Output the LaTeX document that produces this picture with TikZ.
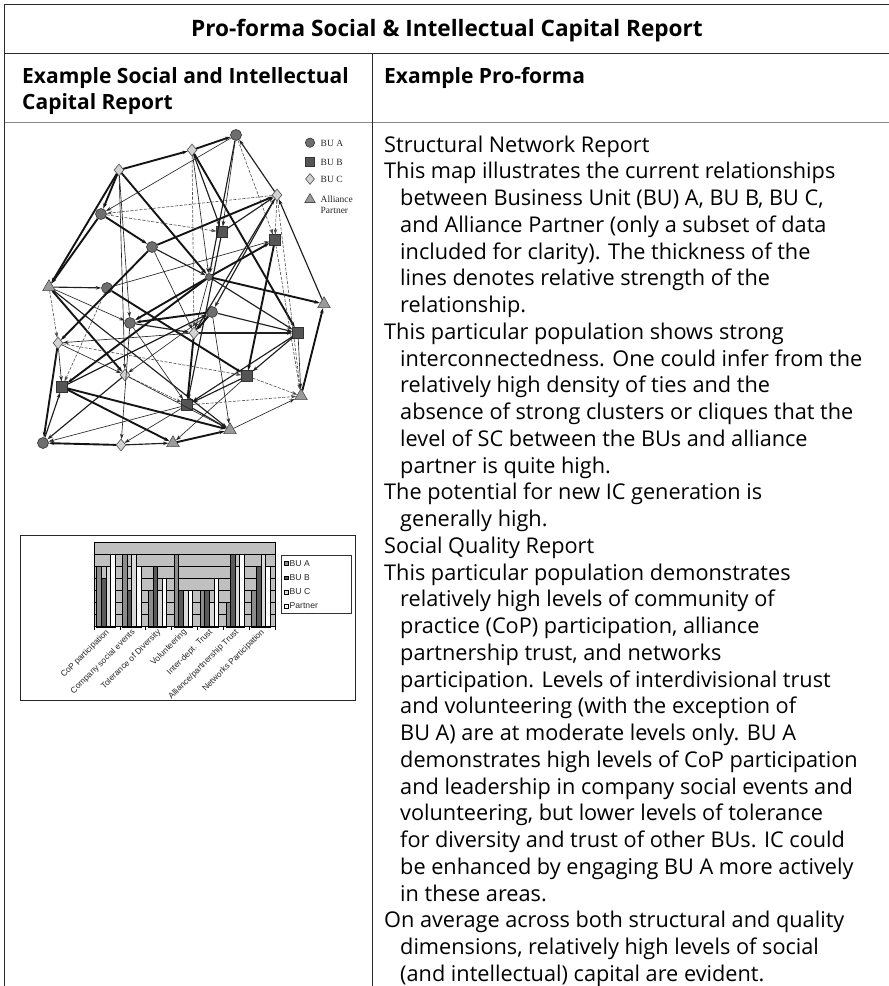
\documentclass[tikz,border=0pt]{standalone}
\usepackage{fontspec}
\setmainfont{Open Sans}
\newfontfamily\chartfont{Liberation Sans}
\newfontfamily\keyfont{Liberation Serif}
\usetikzlibrary{shapes.geometric,arrows.meta}

\definecolor{ruleclr}{HTML}{2A2A2A}
\definecolor{headrule}{HTML}{8A8A8A}
\definecolor{nodeA}{HTML}{6E6E6E}
\definecolor{nodeB}{HTML}{555555}
\definecolor{nodeC}{HTML}{D2D2D2}
\definecolor{nodeT}{HTML}{9A9A9A}
\definecolor{barA}{HTML}{8C8C8C}
\definecolor{barB}{HTML}{5A5A5A}
\definecolor{barC}{HTML}{DADADA}
\definecolor{plotbg}{HTML}{C0C0C0}

\begin{document}
\begin{tikzpicture}[x=1pt,y=-1pt,
  rule/.style={draw=ruleclr,line width=1.3pt},
  titletext/.style={font=\fontsize{22.6}{27}\selectfont\bfseries,inner sep=0},
  headtext/.style={font=\fontsize{21}{26}\selectfont\bfseries,inner sep=0,anchor=base west},
  bodytext/.style={font=\fontsize{21.7}{26.75}\selectfont,inner sep=0,anchor=north west,align=left},
  % network node kinds
  bua/.style={circle,draw=black!80,fill=nodeA,minimum size=11pt,inner sep=0,line width=0.6pt},
  bub/.style={rectangle,draw=black!80,fill=nodeB,minimum size=10.5pt,inner sep=0,line width=0.6pt},
  buc/.style={diamond,draw=black!70,fill=nodeC,minimum width=10pt,minimum height=12pt,inner sep=0,line width=0.6pt},
  ally/.style={regular polygon,regular polygon sides=3,draw=black!70,fill=nodeT,minimum size=14.5pt,inner sep=0,line width=0.6pt},
  keytext/.style={font=\keyfont\fontsize{9.5}{10.5}\selectfont,inner sep=0,anchor=west,align=left,text=black!85},
  % network ties
  tie/.style={-{Stealth[length=5.5pt,width=3.6pt]}},
  ek/.style={tie,line width=1.9pt,draw=black!92},
  em/.style={tie,line width=1.15pt,draw=black!88},
  et/.style={tie,line width=0.65pt,draw=black!85},
  ed/.style={tie,line width=0.6pt,draw=black!70,dash pattern=on 3pt off 1.5pt},
  % bar chart
  bar/.style={draw=black,line width=0.4pt},
  cattext/.style={font=\chartfont\fontsize{8.4}{9}\selectfont,inner sep=0,anchor=east,rotate=45,text=black!85},
  chartkey/.style={font=\chartfont\fontsize{8.6}{9}\selectfont,inner sep=0,anchor=west,text=black!85}
]
\useasboundingbox (0,0) rectangle (889,986);

% ---------- table frame ----------
\draw[rule] (4.5,986) -- (4.5,4.5) -- (889,4.5);
\draw[rule] (4.5,53.3) -- (889,53.3);
\draw[draw=headrule,line width=1.6pt] (4.5,122.5) -- (889,122.5);
\draw[rule] (372.5,53.3) -- (372.5,986);

% ---------- headings ----------
\node[titletext,anchor=base] (title) at (447,36.5) {Pro-forma Social \& Intellectual Capital Report};
\node[headtext] (headL1) at (22,83) {Example Social and Intellectual};
\node[headtext] (headL2) at (22,109) {Capital Report};
\node[headtext] (headR) at (384,83) {Example Pro-forma};

% ---------- report text ----------
\node[bodytext] (report) at (384,135.5) {%
Structural Network Report\\
This map illustrates the current relationships\\
\hspace*{16pt}between Business Unit (BU) A, BU B, BU C,\\
\hspace*{16pt}and Alliance Partner (only a subset of data\\
\hspace*{16pt}included for clarity). The thickness of the\\
\hspace*{16pt}lines denotes relative strength of the\\
\hspace*{16pt}relationship.\\
This particular population shows strong\\
\hspace*{16pt}interconnectedness. One could infer from the\\
\hspace*{16pt}relatively high density of ties and the\\
\hspace*{16pt}absence of strong clusters or cliques that the\\
\hspace*{16pt}level of SC between the BUs and alliance\\
\hspace*{16pt}partner is quite high.\\
The potential for new IC generation is\\
\hspace*{16pt}generally high.\\
Social Quality Report\\
This particular population demonstrates\\
\hspace*{16pt}relatively high levels of community of\\
\hspace*{16pt}practice (CoP) participation, alliance\\
\hspace*{16pt}partnership trust, and networks\\
\hspace*{16pt}participation. Levels of interdivisional trust\\
\hspace*{16pt}and volunteering (with the exception of\\
\hspace*{16pt}BU A) are at moderate levels only. BU A\\
\hspace*{16pt}demonstrates high levels of CoP participation\\
\hspace*{16pt}and leadership in company social events and\\
\hspace*{16pt}volunteering, but lower levels of tolerance\\
\hspace*{16pt}for diversity and trust of other BUs. IC could\\
\hspace*{16pt}be enhanced by engaging BU A more actively\\
\hspace*{16pt}in these areas.\\
On average across both structural and quality\\
\hspace*{16pt}dimensions, relatively high levels of social\\
\hspace*{16pt}(and intellectual) capital are evident.};

% ---------- structural network ----------
\node[bua] (J)  at (236,135) {};
\node[buc] (H)  at (192,150) {};
\node[buc] (I)  at (119,170) {};
\node[buc] (K)  at (277,195) {};
\node[bua] (A1) at (101,214) {};
\node[bub] (B1) at (222,232) {};
\node[bub] (B2) at (275,240) {};
\node[bua] (A2) at (152,247) {};
\node[bua,minimum size=7pt] (D) at (209,277) {};
\node[ally] (T1) at (49,287) {};
\node[bua] (A3) at (107,288) {};
\node[ally] (T2) at (324,304) {};
\node[bua] (A4) at (212,312) {};
\node[bua] (A5) at (130,323) {};
\node[buc] (C1) at (194,333) {};
\node[bub] (B3) at (298,333) {};
\node[buc] (C2) at (58,343) {};
\node[buc] (C3) at (125,375) {};
\node[bub] (B4) at (247,376) {};
\node[bub] (B5) at (62,387) {};
\node[ally] (T3) at (301,396) {};
\node[bub] (B6) at (187,405) {};
\node[ally] (T4) at (230,430) {};
\node[bua] (A6) at (43,443) {};
\node[buc] (C4) at (121,445) {};
\node[ally] (T5) at (173,443) {};

% outer ring
\draw[ek] (C4) -- (A6);
\draw[em] (C4) -- (T5);
\draw[ek] (T5) -- (T4);
\draw[et] (T4) -- (T3);
\draw[ek] (T3) -- (T2);
\draw[em] (T2) -- (K);
\draw[em] (K) -- (J);
\draw[ek] (H) -- (J);
\draw[ek] (I) -- (H);
\draw[ek] (I) -- (A1);
\draw[ek] (A1) -- (T1);
\draw[ek] (I) -- (T1);
\draw[ed] (T1) -- (C2);
\draw[ek] (C2) -- (A6);
\draw[em] (A6) -- (B5);
% upper ties
\draw[em] (H) -- (B1);
\draw[ek] (H) -- (B3);
\draw[ed] (H) -- (C1);
\draw[et] (H) -- (D);
\draw[em] (J) -- (D);
\draw[et] (J) -- (B1);
\draw[ed] (J) -- (B2);
\draw[et] (J) -- (A1);
\draw[em] (B1) -- (K);
\draw[ed] (K) -- (B2);
\draw[em] (K) -- (A4);
\draw[em] (C1) -- (K);
\draw[ed] (K) -- (A1);
\draw[ek] (A2) -- (K);
\draw[ed] (K) -- (T3);
\draw[et] (I) -- (A5);
\draw[et] (I) -- (C3);
\draw[ek] (I) -- (D);
\draw[ek] (A1) -- (A2);
\draw[ed] (A1) -- (B1);
\draw[ek] (A2) -- (C2);
\draw[et] (A2) -- (C1);
\draw[em] (A2) -- (D);
% middle ties
\draw[ek] (D) -- (T2);
\draw[em] (D) -- (B3);
\draw[ek] (D) -- (A5);
\draw[et] (D) -- (C1);
\draw[ek] (D) -- (B5);
\draw[ek] (D) -- (B2);
\draw[em] (B1) -- (B6);
\draw[ek] (B2) -- (B4);
\draw[ed] (B2) -- (T3);
\draw[em] (T1) -- (A3);
\draw[et] (T1) -- (A5);
\draw[ek] (T1) -- (C3);
\draw[em] (T1) -- (T4);
\draw[ek] (A3) -- (B4);
\draw[ed] (A3) -- (B5);
\draw[et] (A3) -- (B2);
\draw[em] (A4) -- (B3);
\draw[ek] (A4) -- (C1);
\draw[ek] (A4) -- (A5);
\draw[et] (A4) -- (C3);
\draw[et] (A4) -- (T4);
\draw[em] (A5) -- (C1);
\draw[et] (A5) -- (C4);
\draw[et] (A5) -- (B6);
% lower ties
\draw[ek] (C1) -- (B6);
\draw[em] (C1) -- (B3);
\draw[et] (C1) -- (C2);
\draw[em] (B3) -- (B6);
\draw[et] (B3) -- (T3);
\draw[em] (B3) -- (B4);
\draw[ed] (C2) -- (B4);
\draw[et] (C2) -- (C3);
\draw[ed] (C3) -- (B6);
\draw[em] (C3) -- (A6);
\draw[et] (C3) -- (T4);
\draw[ed] (B4) -- (T3);
\draw[em] (B4) -- (B6);
\draw[et] (B4) -- (T5);
\draw[ek] (B5) -- (T5);
\draw[ek] (B5) -- (T4);
\draw[ed] (B6) -- (T3);
\draw[em] (B6) -- (T4);
\draw[et] (B6) -- (C4);
\draw[et] (B6) -- (A6);
\draw[et] (C2) -- (B5);
\draw[em] (B5) -- (A4);

% network key
\node[bua,minimum size=9.3pt] (keyA) at (310,142.7) {};
\node[bub,minimum size=8.7pt] (keyB) at (310,161.7) {};
\node[buc,minimum width=9pt,minimum height=11pt] (keyC) at (310,179) {};
\node[ally,minimum size=12pt] (keyT) at (310,199.5) {};
\node[keytext] (keyAt) at (320.5,143) {BU A};
\node[keytext] (keyBt) at (320.5,162) {BU B};
\node[keytext] (keyCt) at (320.5,179.5) {BU C};
\node[keytext,anchor=north west] (keyTt) at (320.5,196) {Alliance\\Partner};

% ---------- social quality bar chart ----------
\draw[draw=black!85,line width=0.8pt] (20,535) rectangle (355,700);
\fill[plotbg] (94,541.7) rectangle (275,626.7);
\foreach \g in {0,...,6}
  \draw[black,line width=0.4pt] (94,541.7+12.14*\g) -- (275,541.7+12.14*\g);
\draw[black,line width=0.4pt] (94,541.7) -- (94,626.7);
\draw[black,line width=0.4pt] (275,541.7) -- (275,626.7);
% bars: category, BU A, BU B, BU C, Partner (heights in grid steps)
\foreach \c/\ha/\hb/\hc/\hp in {0/5/4/5/6,1/6/3/6/5,2/3/5/3/4,3/6/3/3/3,4/3/3/2/4,5/2/6/5/6,6/3/5/6/5}{
  \pgfmathsetmacro{\xo}{96.5+25.86*\c}
  \draw[bar,fill=barA] (\xo,626.7) rectangle ++(4.6,-12.14*\ha);
  \draw[bar,fill=barB] (\xo+4.6,626.7) rectangle ++(4.6,-12.14*\hb);
  \draw[bar,fill=barC] (\xo+9.2,626.7) rectangle ++(4.6,-12.14*\hc);
  \draw[bar,fill=white] (\xo+13.8,626.7) rectangle ++(4.6,-12.14*\hp);
}
\draw[black,line width=0.7pt] (94,626.7) -- (275,626.7);
\foreach \k in {0,...,7}
  \draw[black,line width=0.5pt] (94+25.86*\k,626.7) -- (94+25.86*\k,629.7);
% category labels
\node[cattext] (cat1) at (108,631) {CoP participation};
\node[cattext] (cat2) at (133.9,631) {Company social events};
\node[cattext] (cat3) at (159.7,631) {Tolerance of Diversity};
\node[cattext] (cat4) at (185.6,631) {Volunteering};
\node[cattext] (cat5) at (211.4,631) {Inter-dept. Trust};
\node[cattext] (cat6) at (237.3,631) {Alliance/partnership Trust};
\node[cattext] (cat7) at (263.2,631) {Networks Participation};
% chart key
\draw[draw=black!80,line width=0.5pt] (281.7,555) rectangle (351.7,613.3);
\foreach \yy/\cl/\lab in {563.3/barA/BU A,577.5/barB/BU B,592/barC/BU C,606/white/Partner}{
  \draw[black,line width=0.4pt,fill=\cl] (284.5,\yy-1.8) rectangle ++(3.6,3.6);
  \node[chartkey] at (289.5,\yy) {\lab};
}
\end{tikzpicture}
\end{document}
